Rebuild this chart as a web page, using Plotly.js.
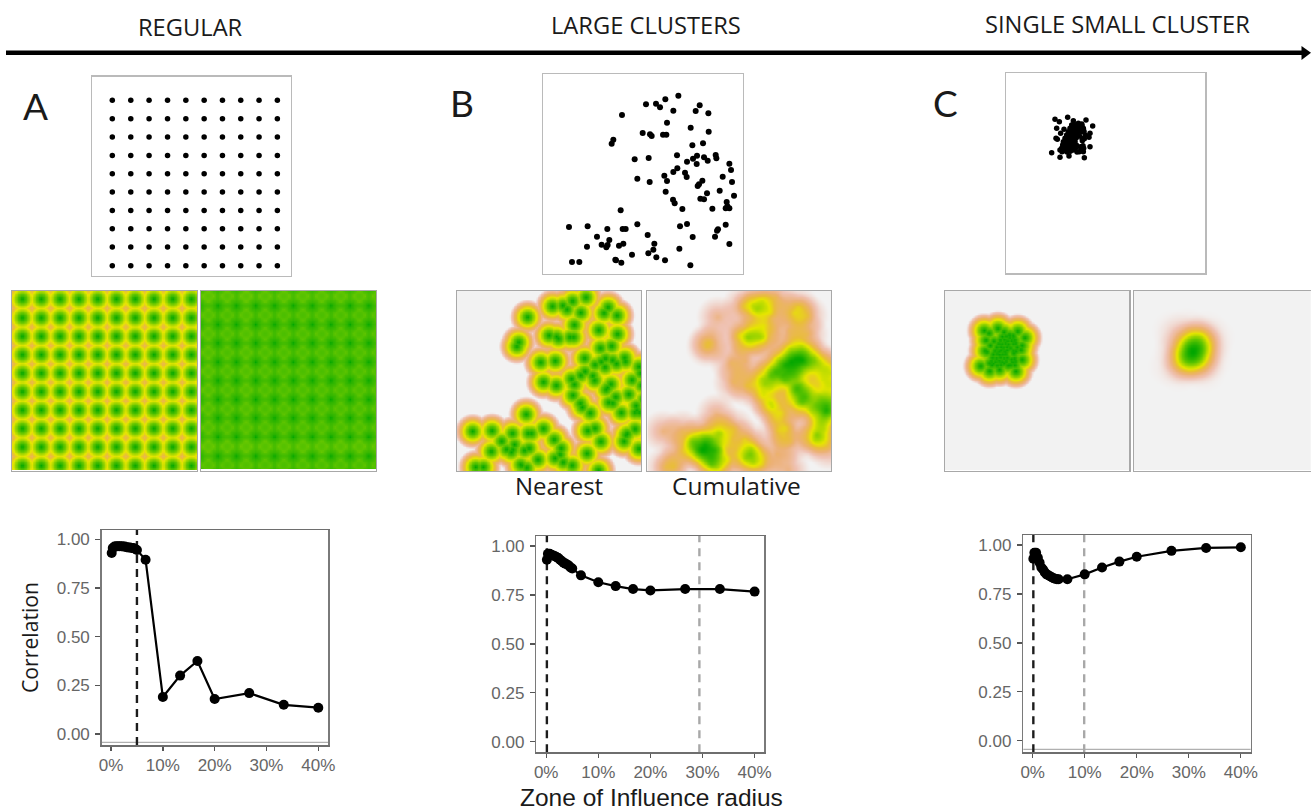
<!DOCTYPE html>
<html>
<head>
<meta charset="utf-8">
<script src="https://cdn.plot.ly/plotly-3.0.1.min.js"></script>
<style>html,body{margin:0;padding:0;background:#fff;overflow:hidden}</style>
</head>
<body>
<div id="chart" style="width:1311px;height:811px"></div>
<script>
// ---------- point patterns, in units ----------
const regularCols = [336,391.5,446.5,502,557,612,667,722,777,832];
const regularRows = [300,356,411,466,521,576,631,686,741,797];
// the cumulative map of panel A continues one column and one row further
const regularColsWide = [336,391.5,446.5,502,557,612,667,722,777,832,887];
const regularRowsWide = [300,356,411,466,521,576,631,686,741,797,852];

const clusterX = [618,648,660,676,715,700,779,767,805,546,681,752,806,608,630,635,669,679,520,515,757,789,584,626,711,741,759,771,770,792,803,827,829,868,873,700,712,735,740,673,681,592,629,787,773,777,848,876,677,801,839,882,781,792,699,704,727,817,860,857,868,862,542,387,443,502,548,557,592,720,741,857,834,831,825,758,623,471,508,441,485,499,503,537,550,643,640,625,718,868,576,649,675,526,544,396,418,751,528];
const clusterY = [118,116,127,103,92,137,121,138,145,150,173,188,200,204,208,213,209,209,224,236,241,235,283,279,271,290,281,272,297,277,287,270,280,296,315,321,310,323,336,332,348,341,351,347,363,358,335,351,380,385,377,392,401,403,404,415,432,431,411,430,430,424,436,486,484,492,492,492,478,484,477,479,493,497,515,516,510,515,525,545,539,547,540,542,536,536,554,565,551,537,569,577,586,584,593,591,591,601,586];

const smallX = [105,118,143,160,198,218,110,122,108,112,210,207,95,120,147,193,210,120,130,178,190,160,175,185,190,132,
  155,166,176,186,150,161,170,181,145,154,164,172,186,192,140,151,158,168,178,196,135,146,152,162,169,186,193,130,141,148,157,165,187,128,139,150,160,169,181,189,125,136,146,154,166,183,191,126,141,151,171];
const smallY = [58,65,52,62,60,78,85,100,115,118,100,112,158,172,168,173,140,150,152,155,155,150,70,72,85,88,
  75,74,77,76,85,84,87,86,95,96,94,97,95,94,105,104,106,104,107,105,115,116,114,116,113,115,116,125,124,126,125,124,122,135,136,134,136,135,140,137,145,146,144,146,145,147,145,155,156,154,156];

// ---------- correlation curves ----------
const radiusPct = [0.13,0.33,0.67,1,1.33,1.67,2,2.33,2.67,3,3.33,3.67,4,4.33,4.67,5,6.67,10,13.33,16.67,20,26.67,33.33,40];
const corrRegular = [0.93,0.955,0.963,0.965,0.965,0.965,0.965,0.963,0.963,0.96,0.958,0.958,0.956,0.955,0.95,0.945,0.895,0.19,0.30,0.375,0.18,0.21,0.15,0.135];
const corrLarge   = [0.93,0.96,0.96,0.955,0.952,0.948,0.943,0.938,0.93,0.922,0.915,0.91,0.905,0.90,0.89,0.885,0.85,0.815,0.795,0.78,0.773,0.78,0.78,0.767];
const corrSmall   = [0.93,0.96,0.96,0.935,0.91,0.885,0.875,0.86,0.85,0.845,0.84,0.835,0.83,0.828,0.825,0.825,0.825,0.85,0.885,0.915,0.94,0.97,0.985,0.988];
const yTickVals = [0,0.25,0.5,0.75,1];
const yTickText = ['0.00','0.25','0.50','0.75','1.00'];
const xTickVals = [0,10,20,30,40];
const xTickText = ['0%','10%','20%','30%','40%'];
const optimumRegular = [5];
const optimumLarge = [0.13,29.4];
const optimumSmall = [0.13,9.9];

// ---------- page geometry ----------
const W = 1311, H = 811;
const TERRAIN = [[0,'#00A600'],[0.25,'#63C600'],[0.5,'#E6E600'],[0.625,'#E9BD3A'],[0.75,'#ECB176'],[0.875,'#EFC2B3'],[1,'#F2F2F2']];
const TICKFONT = {family:'"Liberation Sans", Arial, sans-serif', size:17, color:'#666666'};

const traces = [], layout = {
  width:W, height:H, margin:{l:0,r:0,t:0,b:0}, showlegend:false,
  paper_bgcolor:'#fff', plot_bgcolor:'#fff', shapes:[], annotations:[]
};
let axisNo = 0;
function addAxes(box, xr, yr, xo, yo){
  axisNo++;
  const s = axisNo===1 ? '' : String(axisNo);
  layout['xaxis'+s] = Object.assign({anchor:'y'+s, domain:[box.l/W, box.r/W], range:xr,
    showgrid:false, zeroline:false, showticklabels:false, ticks:''}, xo);
  layout['yaxis'+s] = Object.assign({anchor:'x'+s, domain:[1-box.b/H, 1-box.t/H], range:yr,
    showgrid:false, zeroline:false, showticklabels:false, ticks:''}, yo);
  return {x:'x'+s, y:'y'+s};
}
const FRAME = {showline:true, mirror:true, linecolor:'#bababa', linewidth:1.2};
const MAPFRAME = {showline:true, mirror:true, linecolor:'#a8a8a8', linewidth:1.2};

function scatterPanel(box, xr, yr, xs, ys, size){
  const a = addAxes(box, xr, yr, FRAME, FRAME);
  traces.push({type:'scatter', mode:'markers', x:xs, y:ys, xaxis:a.x, yaxis:a.y,
    marker:{color:'#000', size:size, line:{width:0}}});
}
// xr = [left,right], yr = [top,bottom] in the same units as the point lists
function influenceMap(box, xr, yr, xs, ys, kind, opts){
  opts = opts || {};
  const wPx = box.r-box.l, hPx = box.b-box.t;
  const heatH = opts.heatH || hPx;
  const sx = wPx/(xr[1]-xr[0]), sy = hPx/(yr[1]-yr[0]);
  const R = opts.R || 18, step = 1.5;
  const gx = [], gy = [];
  for(let i=0;i*step<=wPx;i++) gx.push(xr[0]+i*step/sx);
  for(let j=0;j*step<=heatH;j++) gy.push(yr[0]+j*step/sy);
  const z = gy.map(v=>gx.map(u=>{
    let best = Infinity, sum = 0;
    for(let k=0;k<xs.length;k++){
      const d = Math.hypot((u-xs[k])*sx,(v-ys[k])*sy);
      if(d<best) best = d;
      if(d<R) sum += Math.pow(1-d/R, 1.2);
    }
    return kind==='nearest' ? Math.min(best/R,1) : sum;
  }));
  let zz = z;
  if(kind!=='nearest'){
    let mx = 0; z.forEach(r=>r.forEach(c=>{if(c>mx)mx=c;}));
    zz = z.map(r=>r.map(c=>1-c/mx));
  }
  const frameY = Object.assign({},MAPFRAME,opts.noRight?{mirror:false}:{});
  const a = addAxes(box, xr, [yr[1],yr[0]], MAPFRAME, frameY);
  traces.push({type:'heatmap', x:gx, y:gy, z:zz, xaxis:a.x, yaxis:a.y, zmin:0, zmax:1,
    zsmooth:'best', colorscale:TERRAIN, showscale:false, hoverinfo:'skip'});
}
function linePanel(box, xr, yr, corr, vlines, opts){
  const a = addAxes(box, xr, yr,
    {showline:true, mirror:true, linecolor:'#6e6e6e', linewidth:1.5, ticks:'outside', ticklen:4, tickwidth:1.3, tickcolor:'#555',
     showticklabels:true, tickmode:'array', tickvals:xTickVals, ticktext:xTickText, tickfont:TICKFONT},
    {showline:true, mirror:true, linecolor:'#7a7a7a', linewidth:1.5, ticks:'outside', ticklen:5, tickwidth:1.3, tickcolor:'#555',
     showticklabels:true, tickmode:'array', tickvals:yTickVals, ticktext:yTickText, tickfont:TICKFONT, ticklabelstandoff:2});
  vlines.forEach((v,i)=>{
    traces.push({type:'scatter', mode:'lines', x:[v,v], y:yr, xaxis:a.x, yaxis:a.y,
      line:{color:(opts.grayAt===i)?'#a8a8a8':'#1c1c1c', width:2.4, dash:'8px,6px'}});
  });
  traces.push({type:'scatter', mode:'lines+markers', x:radiusPct, y:corr, xaxis:a.x, yaxis:a.y,
    line:{color:'#000', width:2.2}, marker:{color:'#000', size:10, line:{width:0}}});
  if(opts.base!==undefined){
    layout.shapes.push({type:'line', xref:a.x+' domain', x0:0, x1:1, yref:a.y, y0:opts.base, y1:opts.base,
      line:{color:'#b0b0b0', width:1.2}, layer:'below'});
  }
}

// ---------- panel A ----------
const aX = [], aY = [], aXW = [], aYW = [];
regularRows.forEach(r=>regularCols.forEach(c=>{aX.push(c);aY.push(r);}));
regularRowsWide.forEach(r=>regularColsWide.forEach(c=>{aXW.push(c);aYW.push(r);}));
scatterPanel({l:92,r:291,t:76.5,b:276},[275,873],[828,229],aX,aY,5.5);
influenceMap({l:12,r:197,t:291,b:470.5},[307.5,850.3],[278,813],aX,aY,'nearest',{R:19});
influenceMap({l:201,r:376,t:291,b:471},[344.7,854.9],[314.7,843],aXW,aYW,'cumulative',{heatH:177.5});
linePanel({l:101.7,r:328.3,t:530,b:745},[-1.8,41.93],[-0.0565,1.048],corrRegular,optimumRegular,{base:-0.043});

// ---------- panel B ----------
scatterPanel({l:543.3,r:742.7,t:74,b:274},[310,908],[627,27],clusterX,clusterY,6);
influenceMap({l:457,r:641,t:291,b:471},[343.6,876],[75,604.5],clusterX,clusterY,'nearest');
influenceMap({l:647.3,r:831,t:291,b:471},[343.6,876],[75,604.5],clusterX,clusterY,'cumulative',{R:22});
linePanel({l:536.3,r:764,t:536,b:752.3},[-1.9,41.8],[-0.054,1.051],corrLarge,optimumLarge,{grayAt:1});

// ---------- panel C ----------
scatterPanel({l:1005.7,r:1205.3,t:73.3,b:273.3},[-42.9,555.9],[520,-80],smallX,smallY,5.5);
influenceMap({l:944.7,r:1129.3,t:291,b:470.7},[-3,510],[-52.5,456],smallX,smallY,'nearest');
influenceMap({l:1133.7,r:1311,t:291,b:470.7},[-3,489.5],[-52.5,456],smallX,smallY,'cumulative',{noRight:true,R:22});
linePanel({l:1023.3,r:1250.7,t:535,b:752.3},[-1.8,41.9],[-0.059,1.051],corrSmall,optimumSmall,{grayAt:1,base:-0.044});

// ---------- arrow and texts ----------
layout.shapes.push({type:'line', xref:'paper', yref:'paper', x0:6/W, x1:1303/W, y0:1-52.7/H, y1:1-52.7/H, line:{color:'#000',width:4.5}});
layout.shapes.push({type:'path', xref:'paper', yref:'paper', fillcolor:'#000', line:{width:0},
  path:`M ${1301.5/W} ${1-46/H} L ${1311/W} ${1-52.7/H} L ${1301.5/W} ${1-60/H} Z`});
function label(text,x,y,size,angle,family){
  layout.annotations.push({text:text, showarrow:false, xref:'paper', yref:'paper', x:x/W, y:1-y/H,
    xanchor:'center', yanchor:'middle', textangle:angle||0,
    font:{family:family||'"Open Sans", sans-serif', size:size, color:'#1a1a1a'}});
}
label('REGULAR',190.5,27,23.7);
label('LARGE CLUSTERS',645.5,25.5,23.7);
label('SINGLE SMALL CLUSTER',1117.5,24.5,23.7);
label('A',35.5,105,37,0,'Lato, sans-serif');
label('B',462,103,37,0,'Lato, sans-serif');
label('C',945.5,102,37,0,'Lato, sans-serif');
label('Nearest',558.5,485.5,24);
label('Cumulative',736,485.5,24.5);
label('Zone of Influence radius',651,797,24.5,0,'"Liberation Sans", Arial, sans-serif');
label('Correlation',29,638,21.2,-90);

Plotly.newPlot('chart', traces, layout, {staticPlot:true, displayModeBar:false});
</script>
</body>
</html>
